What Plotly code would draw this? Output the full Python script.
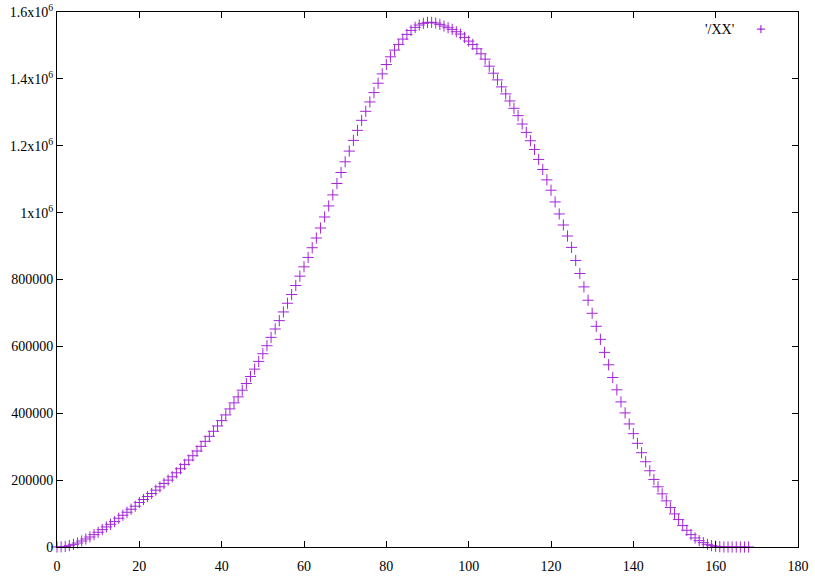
import plotly.graph_objects as go

x_vals = list(range(0, 169))
y_k = [
    0, 0.5, 1.5, 4, 8, 12, 18, 24, 30, 37,
    44, 52, 60, 68, 76, 86, 95, 104, 113, 122,
    133, 142, 151, 160, 170, 180, 190, 200, 210, 222,
    234, 247, 260, 273, 287, 301, 316, 331, 346, 362,
    378, 395, 413, 431, 449, 469, 489, 510, 532, 555,
    578, 602, 627, 652, 677, 703, 729, 755, 782, 810,
    838, 866, 895, 924, 954, 987, 1020, 1053, 1087, 1120,
    1152, 1184, 1216, 1246, 1276, 1303, 1331, 1359, 1387, 1415,
    1443, 1466, 1486, 1503, 1519, 1533, 1545, 1554, 1561, 1566,
    1569, 1569, 1567, 1563, 1558, 1553, 1548, 1541, 1534, 1524,
    1513, 1503, 1490, 1475, 1459, 1438, 1417, 1397, 1376, 1355,
    1334, 1312, 1290, 1265, 1240, 1215, 1189, 1159, 1129, 1098,
    1067, 1032, 996, 963, 930, 896, 857, 818, 778, 738,
    699, 660, 621, 582, 545, 507, 470, 434, 401, 368,
    339, 310, 282, 255, 228, 202, 180, 159, 138, 118,
    99, 82, 64, 50, 37, 27, 19, 13, 8, 4,
    2, 1, 0, 0, 0, 0, 0, 0, 0,
]
y_vals = [v * 1000 for v in y_k]

x_ticks = [0, 20, 40, 60, 80, 100, 120, 140, 160, 180]
y_ticks = [0, 200000, 400000, 600000, 800000, 1000000, 1200000, 1400000, 1600000]
y_tick_text = ["0", "200000", "400000", "600000", "800000",
               "1x10<sup>6</sup>", "1.2x10<sup>6</sup>", "1.4x10<sup>6</sup>", "1.6x10<sup>6</sup>"]
series_name = "'/XX'"
color = "#9400D3"

fig = go.Figure()
fig.add_trace(go.Scatter(
    x=x_vals, y=y_vals, mode="markers", name=series_name,
    marker=dict(symbol="cross-thin", size=8, line=dict(color=color, width=1), color=color),
    opacity=0.85,
    cliponaxis=False, showlegend=False,
))

axis_common = dict(
    showgrid=False, zeroline=False, showline=True, linecolor="black", linewidth=1,
    mirror="allticks", ticks="inside", ticklen=6, tickcolor="black", tickwidth=1,
    tickfont=dict(family="Liberation Serif", size=14, color="black"),
    automargin=False,
)
fig.update_xaxes(range=[0, 180], tickvals=x_ticks, ticktext=[str(t) for t in x_ticks],
                 ticklabelstandoff=6, **axis_common)
fig.update_yaxes(range=[0, 1600000], tickvals=y_ticks, ticktext=y_tick_text, **axis_common)

# legend (gnuplot style: text left, sample right)
fig.add_annotation(xref="paper", yref="paper", x=0.917, y=0.968, text=series_name,
                   showarrow=False, xanchor="right", yanchor="middle",
                   font=dict(family="Liberation Serif", size=14, color="black"))
cx, cy = 0.950, 0.968
dx, dy = 4 / 741, 4 / 535
fig.add_shape(type="line", xref="paper", yref="paper", x0=cx - dx, x1=cx + dx, y0=cy, y1=cy,
              line=dict(color=color, width=1))
fig.add_shape(type="line", xref="paper", yref="paper", x0=cx, x1=cx, y0=cy - dy, y1=cy + dy,
              line=dict(color=color, width=1))

fig.update_layout(
    width=815, height=582,
    margin=dict(l=57, r=17, t=12, b=35),
    plot_bgcolor="white", paper_bgcolor="white",
    font=dict(family="Liberation Serif", size=14, color="black"),
)
fig.write_html("out.html", config={"displayModeBar": False},
               post_script="document.body.style.margin='0';")
